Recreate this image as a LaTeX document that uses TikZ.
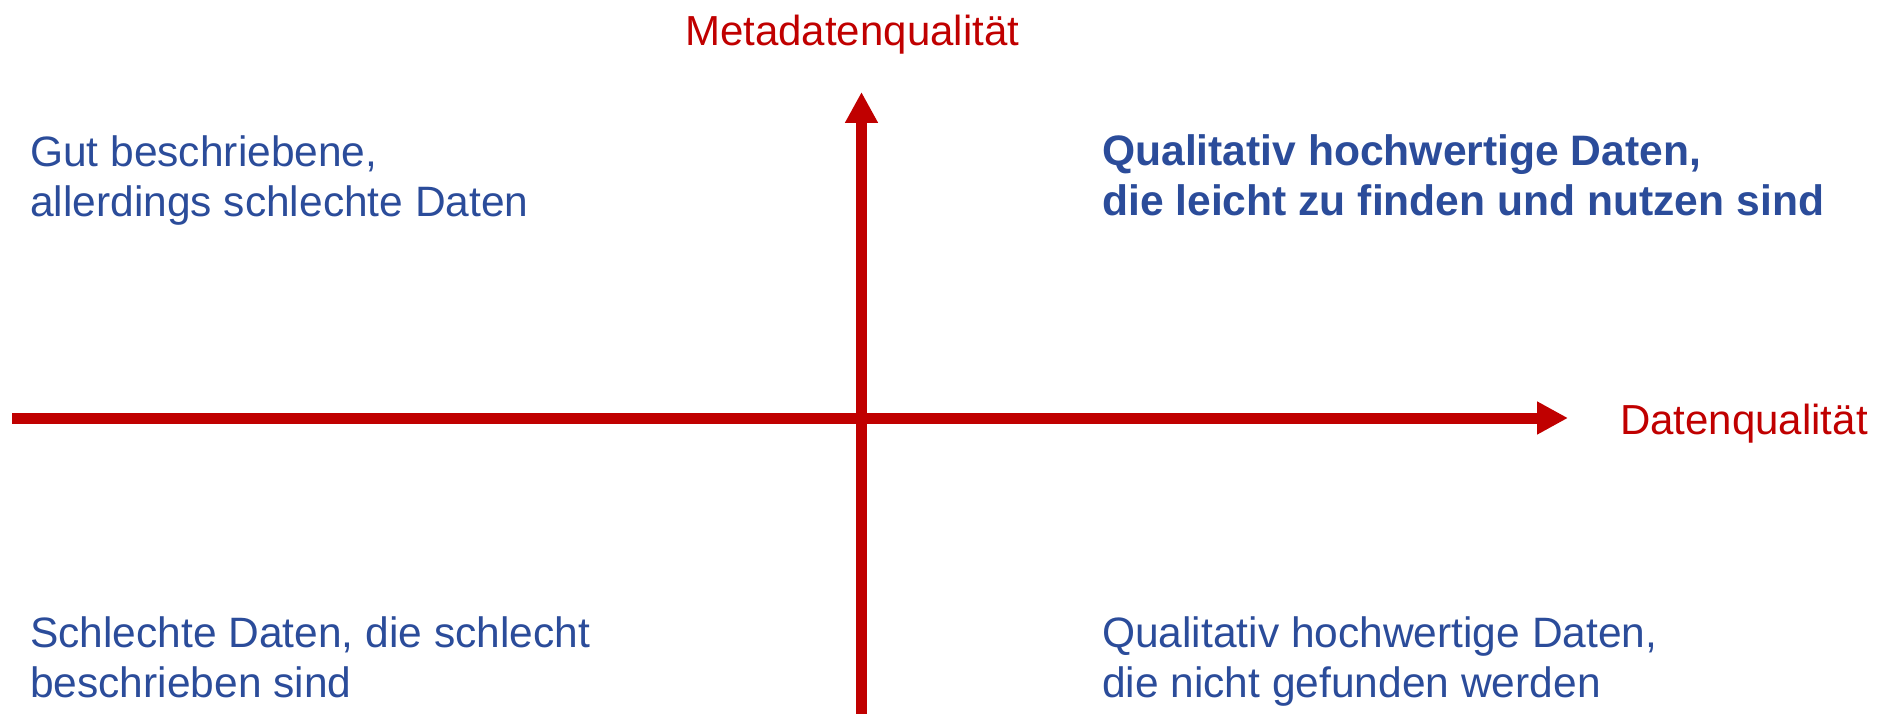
\documentclass[tikz,border=0pt]{standalone}
\usepackage{fontspec}
\setmainfont{Liberation Sans}
\usetikzlibrary{arrows.meta}
\definecolor{axisred}{HTML}{C00000}
\definecolor{txtblue}{HTML}{2B4C9A}
\tikzset{
  axisline/.style={draw=axisred, line width=11pt, -{Triangle[length=31pt,width=31pt]}},
  axislabel/.style={text=axisred, inner sep=0pt, anchor=base west, font=\fontsize{42}{50}\selectfont},
  quad/.style={text=txtblue, inner sep=0pt, anchor=base west, align=left, font=\fontsize{42.5}{50}\selectfont},
  quadbold/.style={quad, font=\fontsize{42.6}{50}\selectfont\bfseries}
}
\begin{document}
\begin{tikzpicture}[x=1pt,y=1pt]
\useasboundingbox (0,0) rectangle (1883,-714);
\coordinate (hstart) at (12,-418);
\coordinate (htip) at (1568,-418);
\coordinate (vstart) at (861.5,-714);
\coordinate (vtip) at (861.5,-92);
\draw[axisline] (hstart) -- (htip);
\draw[axisline] (vstart) -- (vtip);
\node[axislabel] (ylab) at (685,-46) {Metadatenqualität};
\node[axislabel] (xlab) at (1620,-434) {Datenqualität};
\node[quad] (tl) at (30,-217) {Gut beschriebene,\\allerdings schlechte Daten};
\node[quadbold] (tr) at (1102,-216) {Qualitativ hochwertige Daten,\\die leicht zu finden und nutzen sind};
\node[quad] (bl) at (30,-697) {Schlechte Daten, die schlecht\\beschrieben sind};
\node[quad] (br) at (1102,-697) {Qualitativ hochwertige Daten,\\die nicht gefunden werden};
\end{tikzpicture}
\end{document}
